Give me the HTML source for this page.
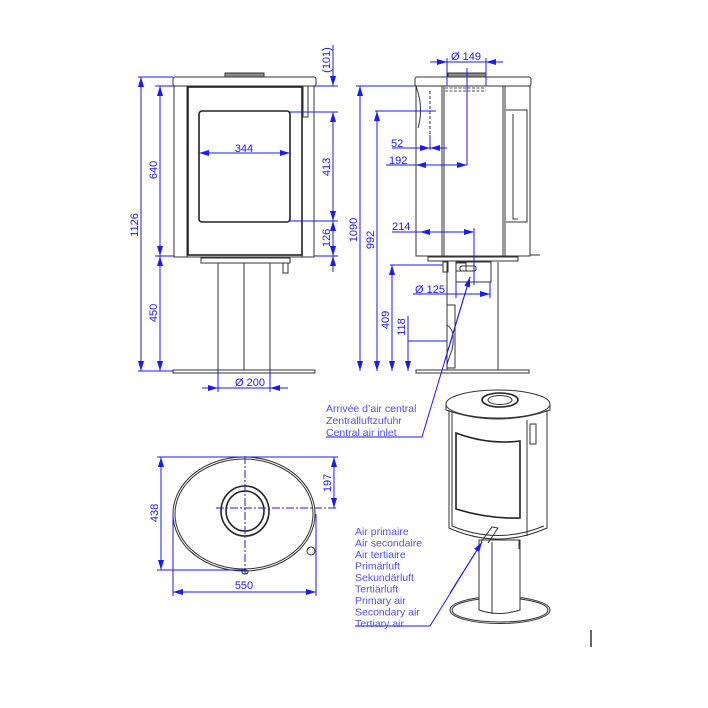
<!DOCTYPE html>
<html><head><meta charset="utf-8"><style>
html,body{margin:0;padding:0;background:#fff;}
svg{display:block;}
.k{fill:none;stroke:#333;stroke-width:1;}
.k2{fill:none;stroke:#222;stroke-width:1.6;}
.b{fill:none;stroke:#1a1aff;stroke-width:1;}
.t{font-family:"Liberation Sans",sans-serif;font-size:11px;fill:#1a1aff;}
.l{font-family:"Liberation Sans",sans-serif;font-size:10.5px;fill:#5050ff;}
</style></head><body>
<svg width="708" height="708" viewBox="0 0 708 708" xmlns="http://www.w3.org/2000/svg">
<defs>
<marker id="a" viewBox="0 0 10 6" refX="10" refY="3" markerWidth="10" markerHeight="6" orient="auto-start-reverse" markerUnits="userSpaceOnUse"><path d="M0,0 L10,3 L0,6z" fill="#1a1aff"/></marker>
</defs>

<!-- FRONT VIEW -->
<g class="k">
<rect x="225" y="73" width="39" height="4" fill="#888" stroke="#333"/>
<rect x="173" y="77" width="143" height="9" rx="2"/>
<rect x="174" y="86" width="140" height="171"/>
<line x1="187" y1="86" x2="187" y2="257"/>
<line x1="302" y1="86" x2="302" y2="257"/>
<rect x="188" y="87" width="114" height="168" class="k2"/>
<rect x="199" y="111" width="91" height="111" rx="3" class="k2"/>
<rect x="303" y="86" width="5" height="31"/>
<rect x="201" y="258" width="89" height="5"/>
<rect x="283" y="263" width="5" height="10"/>
<line x1="218" y1="263" x2="218" y2="370"/>
<line x1="244" y1="263" x2="244" y2="370"/>
<line x1="270" y1="263" x2="270" y2="370"/>
<rect x="173" y="370" width="142" height="3"/>
</g>
<g class="b">
<line x1="138" y1="77" x2="173" y2="77"/><line x1="138" y1="371" x2="173" y2="371"/>
<line x1="141" y1="77" x2="141" y2="371" marker-start="url(#a)" marker-end="url(#a)"/>
<line x1="155" y1="86" x2="174" y2="86"/><line x1="155" y1="256" x2="174" y2="256"/>
<line x1="160" y1="86" x2="160" y2="256" marker-start="url(#a)" marker-end="url(#a)"/>
<line x1="160" y1="256" x2="160" y2="371" marker-start="url(#a)" marker-end="url(#a)"/>
<line x1="314" y1="86" x2="338" y2="86"/><line x1="290" y1="112" x2="338" y2="112"/>
<line x1="290" y1="221" x2="338" y2="221"/><line x1="314" y1="256" x2="338" y2="256"/>
<line x1="333" y1="45" x2="333" y2="86" marker-end="url(#a)"/>
<line x1="333" y1="112" x2="333" y2="221" marker-start="url(#a)" marker-end="url(#a)"/>
<line x1="333" y1="221" x2="333" y2="256" marker-start="url(#a)" marker-end="url(#a)"/>
<line x1="333" y1="256" x2="333" y2="272" marker-start="url(#a)"/>
<line x1="199" y1="153" x2="290" y2="153" marker-start="url(#a)" marker-end="url(#a)"/>
<line x1="218" y1="370" x2="218" y2="392"/><line x1="270" y1="370" x2="270" y2="392"/>
<line x1="202" y1="388" x2="288" y2="388"/>
<line x1="202" y1="388" x2="218" y2="388" marker-end="url(#a)"/>
<line x1="288" y1="388" x2="270" y2="388" marker-end="url(#a)"/>
</g>
<text class="t" x="244" y="152" text-anchor="middle">344</text>
<text class="t" x="250" y="386" text-anchor="middle">Ø 200</text>
<text class="t" transform="translate(138,225) rotate(-90)" text-anchor="middle">1126</text>
<text class="t" transform="translate(157,170) rotate(-90)" text-anchor="middle">640</text>
<text class="t" transform="translate(157,313) rotate(-90)" text-anchor="middle">450</text>
<text class="t" transform="translate(330,60) rotate(-90)" text-anchor="middle">(101)</text>
<text class="t" transform="translate(330,167) rotate(-90)" text-anchor="middle">413</text>
<text class="t" transform="translate(330,238) rotate(-90)" text-anchor="middle">126</text>
<text class="t" transform="translate(357,230) rotate(-90)" text-anchor="middle">1090</text>

<!-- SIDE VIEW -->
<g class="k">
<rect x="448" y="73" width="38" height="4" fill="#888" stroke="#333"/>
<rect x="415" y="77" width="116" height="9" rx="2"/>
<rect x="416" y="86" width="114" height="170"/>
<line x1="442" y1="86" x2="442" y2="256"/><line x1="444" y1="86" x2="444" y2="256"/>
<line x1="503" y1="86" x2="503" y2="256"/><line x1="505" y1="86" x2="505" y2="256"/>
<path d="M506,110 H527 V222 H506 M513,114 V219 H518"/>
<line x1="430" y1="91" x2="430" y2="135" stroke-dasharray="3,2"/>
<path d="M416,86 Q424,108 418,128"/>
<path d="M445,88 H486 M445,91 H486" stroke-dasharray="3,1.5" stroke="#555"/>
<rect x="428" y="257" width="90" height="4"/>
<line x1="530" y1="255" x2="540" y2="255"/>
<rect x="443" y="262" width="5" height="10"/>
<rect x="456" y="263" width="10" height="8"/>
<rect x="460" y="266" width="16" height="5" rx="2"/>
<rect x="456" y="262" width="35" height="20"/>
<line x1="447" y1="262" x2="447" y2="370"/><line x1="498" y1="262" x2="498" y2="370"/>
<path d="M447,305 H455 V368 H447 M447,325 Q456,330 452,350 Q448,360 447,365"/>
<rect x="416" y="370" width="113" height="3"/>
</g>
<g class="b">
<line x1="430" y1="62" x2="503" y2="62"/>
<line x1="430" y1="62" x2="447" y2="62" marker-end="url(#a)"/>
<line x1="503" y1="62" x2="486" y2="62" marker-end="url(#a)"/>
<line x1="447" y1="58" x2="447" y2="86"/><line x1="486" y1="58" x2="486" y2="86"/>
<line x1="467" y1="68" x2="467" y2="165"/>
<line x1="430" y1="135" x2="430" y2="150"/>
<line x1="356" y1="86" x2="416" y2="86"/>
<line x1="360" y1="86" x2="360" y2="371" marker-start="url(#a)" marker-end="url(#a)"/>
<line x1="375" y1="111" x2="436" y2="111"/>
<line x1="377" y1="111" x2="377" y2="371" marker-start="url(#a)" marker-end="url(#a)"/>
<line x1="390" y1="265" x2="443" y2="265"/>
<line x1="392" y1="265" x2="392" y2="371" marker-start="url(#a)" marker-end="url(#a)"/>
<line x1="408" y1="316" x2="408" y2="371" marker-end="url(#a)"/>
<line x1="408" y1="341" x2="447" y2="341"/>
<line x1="392" y1="148" x2="447" y2="148"/>
<line x1="406" y1="148" x2="430" y2="148" marker-end="url(#a)"/>
<line x1="447" y1="148" x2="430" y2="148" marker-end="url(#a)"/>
<line x1="386" y1="165" x2="467" y2="165"/>
<line x1="416" y1="165" x2="442" y2="165" marker-start="url(#a)"/>
<line x1="450" y1="165" x2="467" y2="165" marker-end="url(#a)"/>
<line x1="392" y1="232" x2="474" y2="232"/>
<line x1="420" y1="232" x2="434" y2="232" marker-start="url(#a)"/>
<line x1="460" y1="232" x2="474" y2="232" marker-end="url(#a)"/>
<line x1="474" y1="228" x2="474" y2="285"/>
<line x1="413" y1="294" x2="490" y2="294"/>
<line x1="456" y1="282" x2="456" y2="298"/><line x1="490" y1="282" x2="490" y2="298"/>
<line x1="470" y1="294" x2="490" y2="294" marker-end="url(#a)"/>
<polyline points="470,277 422,437 326,437"/>
<line x1="445" y1="360" x2="470" y2="277" marker-end="url(#a)"/>
</g>
<text class="t" x="466" y="60" text-anchor="middle">Ø 149</text>
<text class="t" x="391" y="147">52</text>
<text class="t" x="389" y="164">192</text>
<text class="t" x="392" y="230">214</text>
<text class="t" x="415" y="293">Ø 125</text>
<text class="t" transform="translate(374,240) rotate(-90)" text-anchor="middle">992</text>
<text class="t" transform="translate(389,320) rotate(-90)" text-anchor="middle">409</text>
<text class="t" transform="translate(405,327) rotate(-90)" text-anchor="middle">118</text>

<!-- TOP VIEW -->
<g class="k">
<ellipse cx="244" cy="514" rx="71" ry="57"/>
<ellipse cx="244" cy="514" rx="69" ry="55"/>
<ellipse cx="245" cy="511" rx="24" ry="25" class="k2"/>
<ellipse cx="245" cy="511" rx="19" ry="20" class="k2"/>
<circle cx="311" cy="551" r="4"/>
<ellipse cx="245" cy="572" rx="3" ry="2"/>
</g>
<g class="b">
<line x1="245" y1="456" x2="245" y2="574" stroke-dasharray="8,2,2,2"/>
<line x1="216" y1="508" x2="336" y2="508" stroke-dasharray="8,2,2,2"/>
<line x1="157" y1="457" x2="338" y2="457"/>
<line x1="157" y1="570" x2="245" y2="570"/>
<line x1="161" y1="457" x2="161" y2="570" marker-start="url(#a)" marker-end="url(#a)"/>
<line x1="334" y1="457" x2="334" y2="508" marker-start="url(#a)" marker-end="url(#a)"/>
<line x1="173" y1="514" x2="173" y2="596"/><line x1="316" y1="514" x2="316" y2="596"/>
<line x1="173" y1="592" x2="316" y2="592" marker-start="url(#a)" marker-end="url(#a)"/>
</g>
<text class="t" x="244" y="589" text-anchor="middle">550</text>
<text class="t" transform="translate(158,513) rotate(-90)" text-anchor="middle">438</text>
<text class="t" transform="translate(331,483) rotate(-90)" text-anchor="middle">197</text>

<!-- PERSPECTIVE -->
<g class="k">
<ellipse cx="500" cy="610" rx="50" ry="13.5" fill="#fff"/>
<ellipse cx="500" cy="610" rx="48" ry="12" />
<path d="M479,540 V610 Q499,617 520,610 V540 Z" fill="#fff"/>
<line x1="492" y1="542" x2="492" y2="614"/>
<path d="M449,410 V528 Q498,550 547,528 V410" fill="#fff"/>
<path d="M452,412 V526 Q498,545 544,526"/>
<ellipse cx="498" cy="404" rx="52" ry="14" fill="#fff"/>
<path d="M446,405 V410 Q498,428 550,410 V405"/>
<ellipse cx="500" cy="400" rx="18" ry="7" class="k2"/>
<ellipse cx="500" cy="400" rx="12" ry="4.5"/>
<path d="M456,433 Q488,445 520,441 V518 Q488,519 456,509 Z" class="k2"/>
<rect x="530" y="424" width="6" height="20"/>
<line x1="527" y1="420" x2="527" y2="536"/>
<path d="M481,542 L492,527 L498,528 L488,543"/>
<line x1="519" y1="540" x2="519" y2="549"/>
</g>
<g class="b">
<polyline points="355,626 430,626 482,542"/>
<line x1="450" y1="593" x2="482" y2="542" marker-end="url(#a)"/>
</g>
<g class="l">
<text x="326" y="412">Arrivée d’air central</text>
<text x="326" y="424">Zentralluftzufuhr</text>
<text x="326" y="436">Central air inlet</text>
<text x="355" y="535">Air primaire</text>
<text x="355" y="546.5">Air secondaire</text>
<text x="355" y="558">Air tertiaire</text>
<text x="355" y="569.5">Primärluft</text>
<text x="355" y="581">Sekundärluft</text>
<text x="355" y="592.5">Tertiärluft</text>
<text x="355" y="604">Primary air</text>
<text x="355" y="615.5">Secondary air</text>
<text x="355" y="627">Tertiary air</text>
</g>
<line x1="591" y1="630" x2="591" y2="647" stroke="#000" stroke-width="1.2"/>
</svg>
</body></html>
